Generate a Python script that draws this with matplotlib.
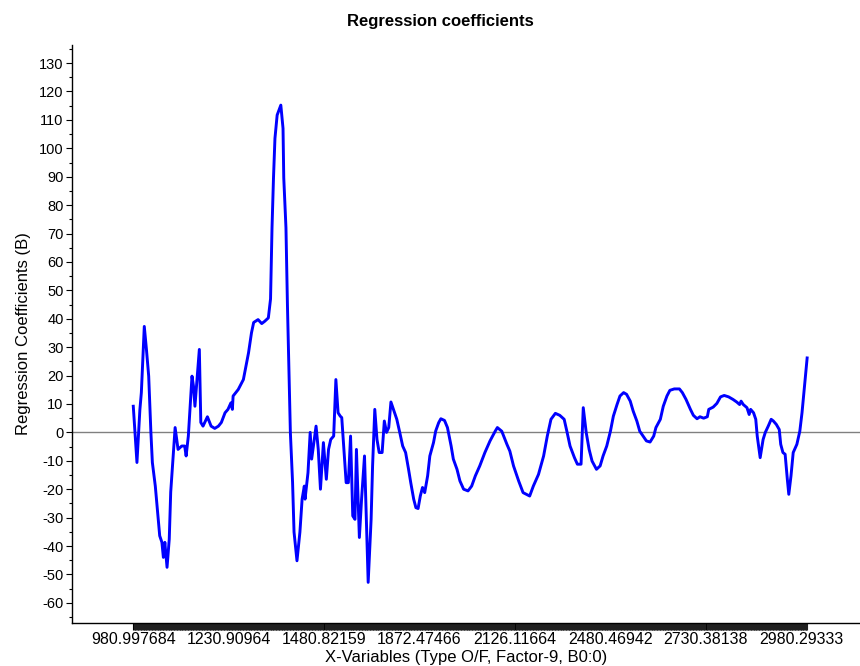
import numpy as np
import matplotlib
matplotlib.use('Agg')
import matplotlib.pyplot as plt
from matplotlib.ticker import FixedLocator, MultipleLocator

plt.rcParams['font.family'] = ['Liberation Sans', 'DejaVu Sans']
plt.rcParams['axes.unicode_minus'] = False

# variable index (x-variable number) and regression coefficient
var_idx = [0, 5, 9, 11, 15, 18, 21, 24, 26, 30, 34, 36, 39, 41, 43, 46, 49, 51, 55, 57,
           61, 66, 70, 72, 75, 80, 82, 84, 90, 92, 95, 101, 106, 111, 116, 120, 125, 129, 133, 135,
           136, 143, 150, 157, 161, 164, 170, 175, 179, 184, 187, 189, 191, 193, 196, 201, 204, 205, 208, 210,
           212, 214, 217, 219, 223, 227, 230, 233, 234, 238, 241, 243, 246, 249, 252, 255, 259, 263, 266, 269,
           273, 276, 279, 282, 284, 286, 290, 293, 296, 299, 302, 304, 308, 311, 315, 320, 324, 326, 329, 332,
           335, 339, 342, 345, 348, 351, 356, 359, 363, 367, 371, 375, 378, 382, 385, 388, 391, 394, 397, 401,
           404, 409, 412, 416, 419, 424, 428, 433, 436, 441, 445, 450, 456, 461, 466, 472, 479, 486, 493, 496,
           502, 509, 513, 518, 525, 531, 540, 545, 552, 559, 564, 569, 575, 581, 587, 591, 595, 601, 605, 610,
           613, 617, 621, 625, 631, 636, 640, 645, 650, 654, 659, 663, 668, 672, 677, 681, 686, 690, 695, 699,
           704, 709, 712, 718, 722, 727, 731, 737, 744, 748, 753, 759, 763, 768, 772, 777, 782, 784, 790, 795,
           800, 805, 811, 817, 822, 826, 828, 831, 836, 839, 841, 845, 848, 850, 854, 858, 861, 865, 869, 872,
           876, 880, 882, 885, 888, 891, 893, 896, 899, 904, 908, 911, 914, 917, 918]
coef = [9.2, -10.6, 8.0, 14.0, 37.3, 29.0, 19.8, 0.0, -10.6, -18.9, -30.6, -36.4, -38.7, -44.0, -38.7, -47.5, -37.6, -21.0, -6.0, 1.7,
        -6.0, -4.8, -4.8, -8.3, -1.3, 19.8, 16.3, 9.2, 29.2, 3.5, 2.2, 5.5, 2.2, 1.4, 2.2, 3.5, 6.9, 8.1, 10.4, 8.1,
        12.8, 15.1, 18.6, 28.0, 35.0, 38.7, 39.7, 38.3, 39.1, 40.3, 47.0, 72.0, 89.5, 103.5, 111.7, 115.2, 107.0, 89.6, 72.0, 45.0,
        23.3, 0.0, -17.6, -35.1, -45.2, -35.1, -23.5, -18.9, -23.5, -14.2, 0.0, -9.4, -3.6, 2.2, -6.0, -20.0, -3.6, -16.5, -6.0, -2.5,
        -1.3, 18.6, 6.9, 5.7, 5.2, -2.5, -17.7, -17.7, -1.3, -29.4, -30.6, -6.0, -37.0, -23.5, -8.3, -52.8, -30.6, -11.8, 8.1, -2.5,
        -7.1, -7.1, 4.0, 0.0, 1.7, 10.7, 6.9, 4.6, 0.0, -4.8, -7.1, -13.0, -17.7, -23.5, -26.5, -26.8, -22.4, -19.4, -21.2, -15.3,
        -8.3, -3.6, 0.5, 3.4, 4.8, 4.2, 1.7, -4.8, -9.4, -13.0, -17.1, -20.0, -20.6, -18.9, -15.3, -11.8, -7.1, -3.0, 0.4, 1.7,
        0.4, -4.2, -6.6, -11.8, -17.1, -21.2, -22.4, -18.9, -14.8, -8.3, -1.3, 4.6, 6.7, 6.0, 4.6, 0.0, -4.8, -8.9, -11.2, -11.2,
        8.7, 0.0, -6.0, -10.1, -13.0, -11.8, -8.3, -4.8, 0.4, 5.7, 9.8, 12.8, 14.0, 13.4, 11.0, 7.5, 4.0, 0.4, -1.5, -3.0,
        -3.4, -1.3, 1.7, 4.6, 9.2, 12.8, 14.8, 15.3, 15.3, 14.0, 11.6, 8.1, 6.0, 4.8, 5.5, 5.0, 5.5, 8.1, 8.9, 10.2,
        12.5, 13.0, 12.5, 11.6, 10.7, 9.8, 11.0, 9.8, 8.7, 6.3, 8.1, 6.9, 4.6, -1.3, -8.9, -2.5, 0.0, 2.2, 4.6, 4.0,
        2.8, 1.0, -4.2, -7.1, -7.7, -16.5, -21.8, -15.3, -7.1, -4.2, 0.4, 6.9, 15.1, 23.3, 26.2]

tick_pos = [0, 130, 260, 390, 520, 650, 780, 910]
tick_labels = ['980.997684', '1230.90964', '1480.82159', '1872.47466',
               '2126.11664', '2480.46942', '2730.38138', '2980.29333']
n_vars = 919

fig = plt.figure(figsize=(8.6, 6.66), dpi=100)
ax = fig.add_axes([0.0837, 0.065, 0.9163, 0.868])

ax.axhline(0, color='#808080', linewidth=1.0, zorder=1)
ax.plot(var_idx, coef, color='#0000ff', linewidth=2.1, zorder=2)

ax.set_xlim(-83.5, 990)
ax.set_ylim(-67, 136.5)

ax.yaxis.set_major_locator(MultipleLocator(10))
ax.yaxis.set_minor_locator(MultipleLocator(5))
ax.set_xticks(tick_pos)
ax.set_xticklabels(tick_labels)
ax.xaxis.set_minor_locator(FixedLocator(np.arange(n_vars)))

ax.tick_params(axis='y', which='major', direction='out', length=4, width=0.8, labelsize=10.5, pad=2)
ax.tick_params(axis='y', which='minor', direction='out', length=2.5, width=0.8)
ax.tick_params(axis='x', which='major', direction='out', length=5, width=0.8, labelsize=11.5, pad=1.5)
ax.tick_params(axis='x', which='minor', direction='out', length=5, width=0.8, color='#202020')

for side in ['top', 'right']:
    ax.spines[side].set_visible(False)
ax.spines['left'].set_linewidth(1.0)
ax.spines['bottom'].set_linewidth(1.0)

ax.set_xlabel('X-Variables (Type O/F, Factor-9, B0:0)', fontsize=12, labelpad=2)
ax.set_ylabel('Regression Coefficients (B)', fontsize=12, labelpad=6)
fig.text(0.5116, 0.967, 'Regression coefficients', ha='center', va='center',
         fontsize=12, fontweight='bold')

plt.savefig('out.png', dpi=100)
